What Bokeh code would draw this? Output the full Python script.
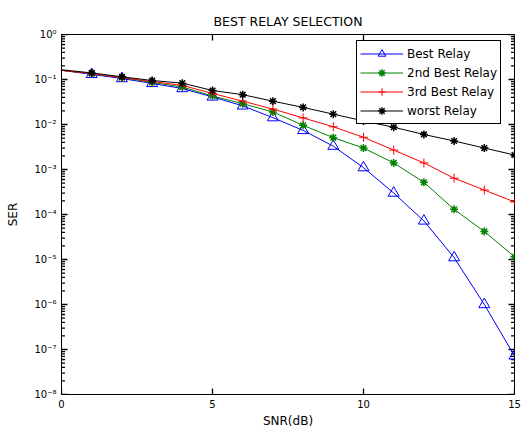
from bokeh.plotting import figure
from bokeh.models import FixedTicker, Legend, LegendItem, Range1d
from bokeh.embed import file_html
from bokeh.resources import INLINE

snr = [0, 1, 2, 3, 4, 5, 6, 7, 8, 9, 10, 11, 12, 13, 14, 15]
best = [0.16, 0.13, 0.105, 0.082, 0.063, 0.041, 0.026, 0.0142, 0.0074, 0.0033,
        0.0011, 3.0e-4, 7.2e-5, 1.1e-5, 1.0e-6, 7.2e-8]
second = [0.16, 0.135, 0.11, 0.086, 0.068, 0.043, 0.029, 0.019, 0.0096, 0.0051,
          0.0030, 0.0014, 5.2e-4, 1.3e-4, 4.2e-5, 1.15e-5]
third = [0.16, 0.135, 0.11, 0.09, 0.074, 0.049, 0.033, 0.022, 0.014, 0.0089,
         0.0052, 0.0027, 0.0014, 6.4e-4, 3.5e-4, 1.9e-4]
worst = [0.165, 0.14, 0.115, 0.095, 0.083, 0.057, 0.046, 0.033, 0.024, 0.017,
         0.012, 0.0087, 0.006, 0.0043, 0.003, 0.0021]
names = ["Best Relay", "2nd Best Relay", "3rd Best Relay", "worst Relay"]
ytick_vals = [1e0, 1e-1, 1e-2, 1e-3, 1e-4, 1e-5, 1e-6, 1e-7, 1e-8]
ytick_labels = ["10⁰", "10⁻¹", "10⁻²", "10⁻³", "10⁻⁴", "10⁻⁵", "10⁻⁶", "10⁻⁷", "10⁻⁸"]
xtick_vals = [0, 5, 10, 15]
x_lo, x_hi = 0, 15
y_lo, y_hi = 1e-8, 1e0

FONT = "DejaVu Sans"
minor_vals = [m * 10.0 ** e for e in range(-8, 0) for m in range(2, 10)]

W, H = 522, 430
BL, BR, BT, BB = 61, 8, 34, 35
FW, FH = W - BL - BR, H - BT - BB

p = figure(width=W, height=H, y_axis_type="log", output_backend="svg",
           toolbar_location=None, x_range=Range1d(x_lo, x_hi), y_range=Range1d(y_lo, y_hi),
           min_border_left=BL, min_border_right=BR, min_border_top=BT, min_border_bottom=BB,
           title="BEST RELAY SELECTION")
p.title.align = "center"
p.title.text_font = FONT
p.title.text_font_size = "12.5px"
p.title.text_font_style = "normal"
p.title.text_color = "black"
p.title.standoff = 12

p.outline_line_color = "black"
p.outline_line_width = 1
p.outline_line_alpha = 1
p.xgrid.visible = False
p.ygrid.visible = False
p.background_fill_color = "white"
p.border_fill_color = "white"

def style_axis(ax):
    ax.major_tick_in = 0
    ax.major_tick_out = 0
    ax.minor_tick_in = 0
    ax.minor_tick_out = 0
    ax.axis_line_color = "black"
    ax.major_label_text_font = FONT
    ax.major_label_text_font_size = "10px"
    ax.major_label_text_color = "black"
    ax.axis_label_text_font = FONT
    ax.axis_label_text_font_size = "12px"
    ax.axis_label_text_font_style = "normal"
    ax.axis_label_text_color = "black"

xa = p.xaxis[0]
xa.ticker = FixedTicker(ticks=xtick_vals)
xa.axis_label = "SNR(dB)"
style_axis(xa)
xa.major_label_standoff = 5
xa.axis_label_standoff = 3

ya = p.yaxis[0]
ya.ticker = FixedTicker(ticks=ytick_vals, minor_ticks=minor_vals)
ya.major_label_overrides = {v: l for v, l in zip(ytick_vals, ytick_labels)}
ya.axis_label = "SER"
style_axis(ya)
ya.major_label_standoff = 5
ya.axis_label_standoff = 11

# inward tick marks (MATLAB style) on all four sides, lengths in pixels
MAJ, MIN = 6, 3.5
dx = lambda px: px * (x_hi - x_lo) / FW
fy = lambda px: 10 ** (px * 8.0 / FH)

txs, tys = [], []
for t in xtick_vals:
    txs += [[t, t], [t, t]]
    tys += [[y_lo, y_lo * fy(MAJ)], [y_hi, y_hi / fy(MAJ)]]
for t in ytick_vals:
    txs += [[x_lo, x_lo + dx(MAJ)], [x_hi, x_hi - dx(MAJ)]]
    tys += [[t, t], [t, t]]
for t in minor_vals:
    txs += [[x_lo, x_lo + dx(MIN)], [x_hi, x_hi - dx(MIN)]]
    tys += [[t, t], [t, t]]
p.multi_line(xs=txs, ys=tys, line_color="black", line_width=1.3)

colors = ["#0000ff", "#008000", "#ff0000", "#000000"]
markers = ["triangle", "asterisk", "cross", "asterisk"]
msizes = [11, 8, 9, 8]
series = [best, second, third, worst]

items = []
for name, ys, c, m, ms in zip(names, series, colors, markers, msizes):
    ln = p.line(snr, ys, line_color=c, line_width=1)
    mk = p.scatter(snr[1:], ys[1:], marker=m, size=ms, line_color=c,
                   fill_color=None, line_width=1.5 if m == "asterisk" else 1)
    items.append(LegendItem(label=name, renderers=[ln, mk]))

leg = Legend(items=items, location=(295, 270))
leg.border_line_color = "black"
leg.border_line_width = 1
leg.border_line_alpha = 1
leg.background_fill_color = "white"
leg.background_fill_alpha = 1
leg.label_text_font = FONT
leg.label_text_font_size = "12px"
leg.label_text_color = "black"
leg.label_height = 19
leg.glyph_height = 19
leg.glyph_width = 43
leg.label_standoff = 4
leg.spacing = 0
leg.padding = 3
leg.margin = 0
p.add_layout(leg, "center")

open("out.html", "w").write(file_html(p, INLINE))
